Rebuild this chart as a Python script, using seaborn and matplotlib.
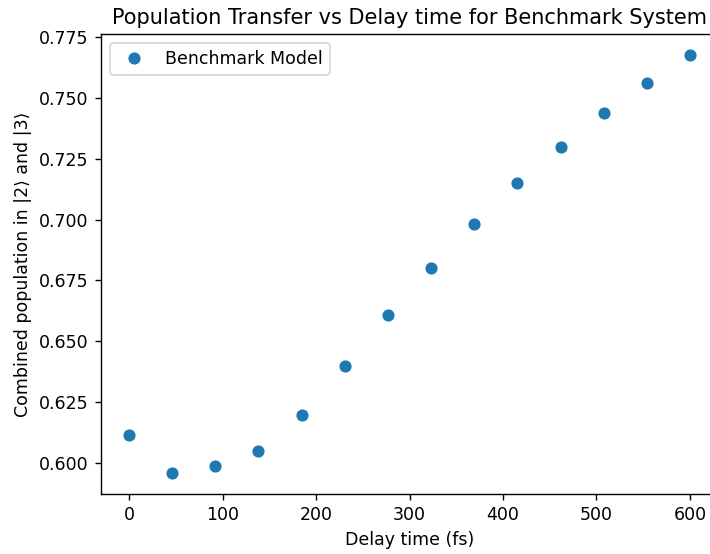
import matplotlib
matplotlib.use("Agg")
import matplotlib.pyplot as plt
import seaborn as sns
import pandas as pd

delay_fs = [0, 46, 92, 138, 185, 231, 277, 323, 369, 415, 462, 508, 554, 600]
population = [0.6115, 0.5959, 0.5988, 0.6049, 0.6197, 0.6398, 0.6608,
              0.6801, 0.6982, 0.7150, 0.7298, 0.7438, 0.7561, 0.7676]

df = pd.DataFrame({"Delay time (fs)": delay_fs, "Population": population})

DPI = 125
fig = plt.figure(figsize=(710 / DPI, 554 / DPI), dpi=DPI)
ax = fig.add_axes([101 / 710, 1 - 494 / 554, (718 - 101) / 710, (494 - 34) / 554])
sns.lineplot(data=df, x="Delay time (fs)", y="Population", ax=ax,
             color="#1f77b4", marker="o", linestyle="none", markersize=6,
             markeredgecolor="#1f77b4", markeredgewidth=1.0,
             label="Benchmark Model")
ax.set_xlabel("Delay time (fs)")
ax.set_ylabel("Combined population in |2⟩ and |3⟩")
ax.set_title("Population Transfer vs Delay time for Benchmark System")
ax.set_xticks([0, 100, 200, 300, 400, 500, 600])
ax.set_yticks([0.600, 0.625, 0.650, 0.675, 0.700, 0.725, 0.750, 0.775])
ax.legend(loc="upper left")
fig.savefig("out.png", dpi=DPI)
